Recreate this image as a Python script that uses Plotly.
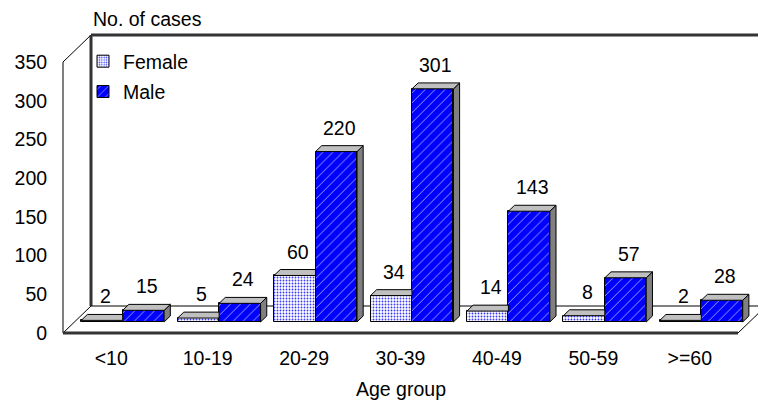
import plotly.graph_objects as go

# Cases by age group and sex
age_groups = ["<10", "10-19", "20-29", "30-39", "40-49", "50-59", ">=60"]
female = [2, 5, 60, 34, 14, 8, 2]
male = [15, 24, 220, 301, 143, 57, 28]
y_ticks = [0, 50, 100, 150, 200, 250, 300, 350]

W, H = 758, 405
FONT = "Liberation Sans, Arial, sans-serif"
FS = 19.5

# Pixel geometry of the front plane: x from 63 to 738 px, value 0 at 333 px, 350 at 62 px
X_LEFT_PX, X_RIGHT_PX = 63, 738
Y_ZERO_PX, Y_TOP_PX = 333, 62
Y_MAX = 350
n = len(age_groups)
SX = (X_RIGHT_PX - X_LEFT_PX) / n          # px per category
SY = (Y_ZERO_PX - Y_TOP_PX) / Y_MAX        # px per case
x_range = [-X_LEFT_PX / SX, n + (W - X_RIGHT_PX) / SX]
y_range = [-(H - Y_ZERO_PX) / SY, Y_ZERO_PX / SY]

# Oblique depth of the box (28 px right, 27 px up)
DX = 28 / SX
DY = 27 / SY
F0, F1 = 0.41, 0.63                        # depth fractions of bar front/back
BASE = F0 * DY
SHIFT = F0 * DX
DDX = (F1 - F0) * DX
DDY = (F1 - F0) * DY
BW = 0.43

fem_x = [i + 0.5 + SHIFT - BW / 2 for i in range(n)]
male_x = [i + 0.5 + SHIFT + BW / 2 for i in range(n)]

fig = go.Figure()

fig.add_trace(go.Bar(
    x=fem_x, y=female, base=[BASE] * n, width=BW, name="Female",
    marker=dict(color="white", line=dict(color="black", width=1),
                pattern=dict(shape=".", fgcolor="#3a3aff", bgcolor="white",
                             size=3, solidity=0.3, fillmode="replace")),
    legendgroup="f", hoverinfo="skip"))
fig.add_trace(go.Bar(
    x=male_x, y=male, base=[BASE] * n, width=BW, name="Male",
    marker=dict(color="#0000ff", line=dict(color="black", width=1),
                pattern=dict(shape="/", fgcolor="#b8b8ff", bgcolor="#0000ff",
                             size=7, solidity=0.12, fillmode="replace")),
    legendgroup="m", hoverinfo="skip"))


def poly_trace(polys, color):
    xs, ys = [], []
    for p in polys:
        for (a, b) in p + [p[0]]:
            xs.append(a)
            ys.append(b)
        xs.append(None)
        ys.append(None)
    return go.Scatter(x=xs, y=ys, mode="lines", fill="toself", fillcolor=color,
                      line=dict(color="black", width=1), showlegend=False,
                      hoverinfo="skip")


tops, sides = [], []
for i in range(n):
    # female top, trimmed where the taller male bar hides it
    xl, xr = fem_x[i] - BW / 2, fem_x[i] + BW / 2
    t = BASE + female[i]
    tops.append([(xl, t), (xr, t), (xr, t + DDY), (xl + DDX, t + DDY)])
    # male top and right side
    xl, xr = male_x[i] - BW / 2, male_x[i] + BW / 2
    t = BASE + male[i]
    tops.append([(xl, t), (xr, t), (xr + DDX, t + DDY), (xl + DDX, t + DDY)])
    sides.append([(xr, BASE), (xr, t), (xr + DDX, t + DDY), (xr + DDX, BASE + DDY)])

fig.add_trace(poly_trace(sides, "#808080"))
fig.add_trace(poly_trace(tops, "#c0c0c0"))

# Value labels above each bar
ann = []
for xs_, vals in ((fem_x, female), (male_x, male)):
    for xc, v in zip(xs_, vals):
        ann.append(dict(x=xc + DDX / 2, y=BASE + v + DDY, text=str(v),
                        showarrow=False, yanchor="bottom", yshift=5,
                        font=dict(family=FONT, size=FS, color="black")))

ann.append(dict(x=(X_LEFT_PX + 28) / W, y=1 - 19 / H, xref="paper", yref="paper",
                text="No. of cases", showarrow=False, xanchor="left", yanchor="middle",
                font=dict(family=FONT, size=FS, color="black")))
ann.append(dict(x=401 / W, y=1 - 389 / H, xref="paper", yref="paper",
                text="Age group", showarrow=False, xanchor="center", yanchor="middle",
                font=dict(family=FONT, size=FS, color="black")))

# Walls and floor of the 3-D box
thin = dict(color="black", width=1)
thick = dict(color="#333333", width=3)
shapes = [
    # left wall
    dict(type="line", x0=0, y0=0, x1=0, y1=Y_MAX, line=thin),
    dict(type="line", x0=0, y0=Y_MAX, x1=DX, y1=Y_MAX + DY, line=thin),
    dict(type="line", x0=0, y0=0, x1=DX, y1=DY, line=thin),
    # back wall
    dict(type="line", x0=DX, y0=DY, x1=DX, y1=Y_MAX + DY, line=thick),
    dict(type="line", x0=DX, y0=Y_MAX + DY, x1=n + DX + 1, y1=Y_MAX + DY, line=thick),
    dict(type="line", x0=DX, y0=DY, x1=n + DX + 1, y1=DY, line=thin),
    # floor
    dict(type="line", x0=0, y0=0, x1=n, y1=0, line=thick),
    dict(type="line", x0=n, y0=0, x1=n + DX, y1=DY, line=thin),
]
for s in shapes:
    s.update(xref="x", yref="y", layer="below")

fig.update_layout(
    width=W, height=H,
    margin=dict(l=0, r=0, t=0, b=0),
    paper_bgcolor="white", plot_bgcolor="white",
    barmode="overlay", bargap=0,
    font=dict(family=FONT, size=FS, color="black"),
    showlegend=True,
    legend=dict(x=83 / W, y=1 - 42 / H, xanchor="left", yanchor="top",
                bgcolor="rgba(0,0,0,0)", font=dict(family=FONT, size=FS),
                traceorder="grouped", tracegroupgap=2),
    annotations=ann,
    shapes=shapes,
    xaxis=dict(range=x_range, showgrid=False, zeroline=False, showline=False,
               tickmode="array", tickvals=[i + 0.5 for i in range(n)],
               ticktext=age_groups, ticks="outside", ticklen=8,
               tickcolor="rgba(0,0,0,0)", anchor="free",
               position=(H - Y_ZERO_PX) / H, fixedrange=True),
    yaxis=dict(range=y_range, showgrid=False, zeroline=False, showline=False,
               tickmode="array", tickvals=y_ticks, ticks="outside", ticklen=12,
               tickcolor="rgba(0,0,0,0)", anchor="free",
               position=X_LEFT_PX / W, fixedrange=True),
)

fig.write_html("out.html")
